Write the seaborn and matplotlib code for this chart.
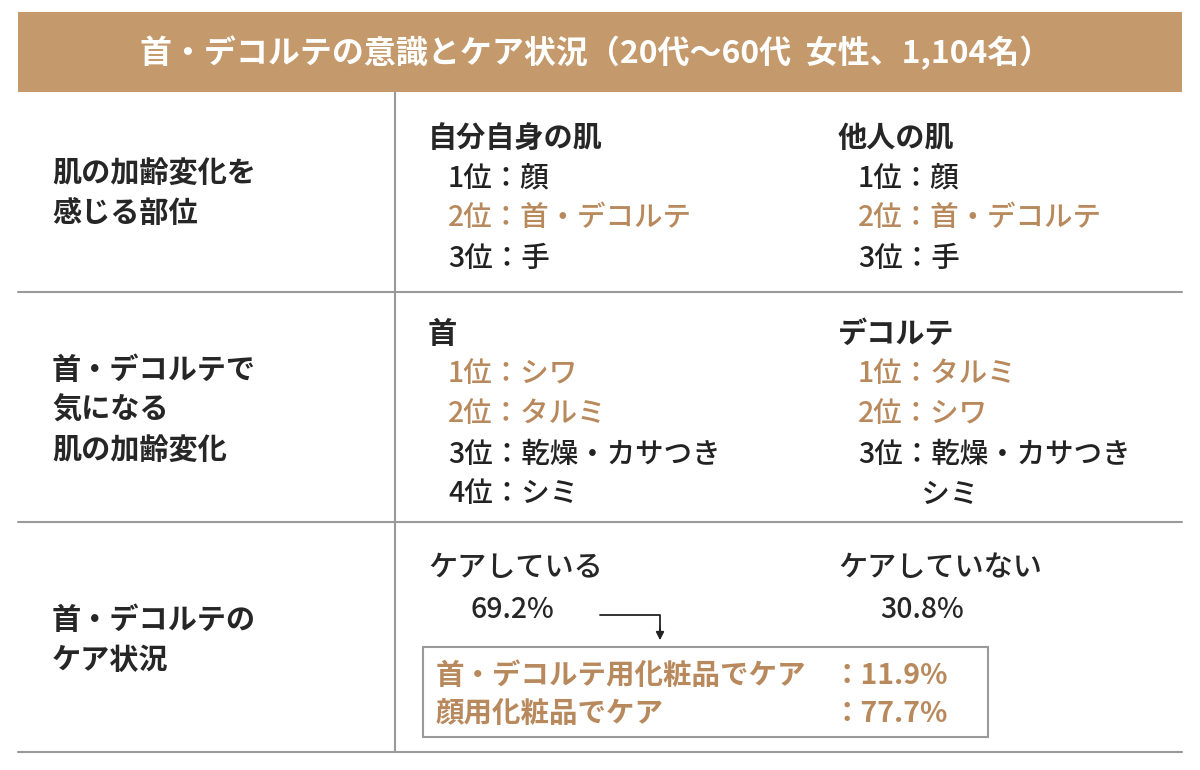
import matplotlib
matplotlib.use("Agg")
import matplotlib.pyplot as plt
import seaborn as sns
from matplotlib.patches import Rectangle

sns.set_theme(style="white")
plt.rcParams['font.family'] = ['Noto Sans CJK JP', 'DejaVu Sans']

BROWN = '#C49A6C'
HL = '#B8895C'
LINE = '#9A9A9A'

title = '首・デコルテの意識とケア状況（20代～60代  女性、1,104名）'
row_labels = ['肌の加齢変化を\n感じる部位', '首・デコルテで\n気になる\n肌の加齢変化', '首・デコルテの\nケア状況']

# (heading, [(text, highlighted)])
self_skin = ('自分自身の肌', [('1位：顔', False), ('2位：首・デコルテ', True), ('3位：手', False)])
other_skin = ('他人の肌', [('1位：顔', False), ('2位：首・デコルテ', True), ('3位：手', False)])
neck = ('首', [('1位：シワ', True), ('2位：タルミ', True), ('3位：乾燥・カサつき', False), ('4位：シミ', False)])
decollete = ('デコルテ', [('1位：タルミ', True), ('2位：シワ', True), ('3位：乾燥・カサつき', False), ('　　 シミ', False)])
care_labels = ['ケアしている', 'ケアしていない']
care_values = [69.2, 30.8]
care_detail = ['首・デコルテ用化粧品でケア', '顔用化粧品でケア']
care_detail_values = [11.9, 77.7]

fig = plt.figure(figsize=(12, 7.7), dpi=100)
ax = fig.add_axes([0, 0, 1, 1])
ax.set_xlim(0, 1200)
ax.set_ylim(770, 0)
ax.axis('off')

ax.add_patch(Rectangle((18, 12), 1164, 80, color=BROWN, lw=0))
ax.text(596, 53, title, color='white', fontsize=23, fontweight='bold', ha='center', va='center')

for y in [292, 522, 752]:
    ax.plot([18, 1182], [y, y], color=LINE, lw=1.5)
ax.plot([395, 395], [92, 752], color=LINE, lw=1.5)

row_centers = [193, 410, 640]
for lab, yc in zip(row_labels, row_centers):
    ax.text(52, yc, lab, fontsize=21, fontweight='bold', ha='left', va='center', linespacing=1.4)

def block(x, y, data):
    head, items = data
    ax.text(x, y, head, fontsize=21, fontweight='bold', va='center')
    for i, (t, h) in enumerate(items):
        ax.text(x + 20, y + 40 * (i + 1), t, fontsize=20.5, fontweight='medium', va='center',
                color=HL if h else '#222222')

block(428, 138, self_skin)
block(838, 138, other_skin)
block(428, 334, neck)
block(838, 334, decollete)

for x, lab, v in zip([428, 838], care_labels, care_values):
    ax.text(x, 567, lab, fontsize=21, fontweight='medium', va='center')
    ax.text(x + 42, 609, f'{v}%', fontsize=20.5, fontweight='medium', va='center')

ax.plot([600, 660, 660], [615, 615, 635], color='#222222', lw=1.3)
ax.annotate('', xy=(660, 643), xytext=(660, 625),
            arrowprops=dict(arrowstyle='-|>', color='#222222', lw=1.2))

ax.add_patch(Rectangle((423, 647), 565, 90, fill=False, ec=LINE, lw=1.5))
for i, (t, v) in enumerate(zip(care_detail, care_detail_values)):
    y = 676 + 38 * i
    ax.text(436, y, t, fontsize=20.5, fontweight='bold', color=HL, va='center')
    ax.text(832, y, f'：{v}%', fontsize=20.5, fontweight='bold', color=HL, va='center')

fig.savefig('out.png', dpi=100, facecolor='white')
